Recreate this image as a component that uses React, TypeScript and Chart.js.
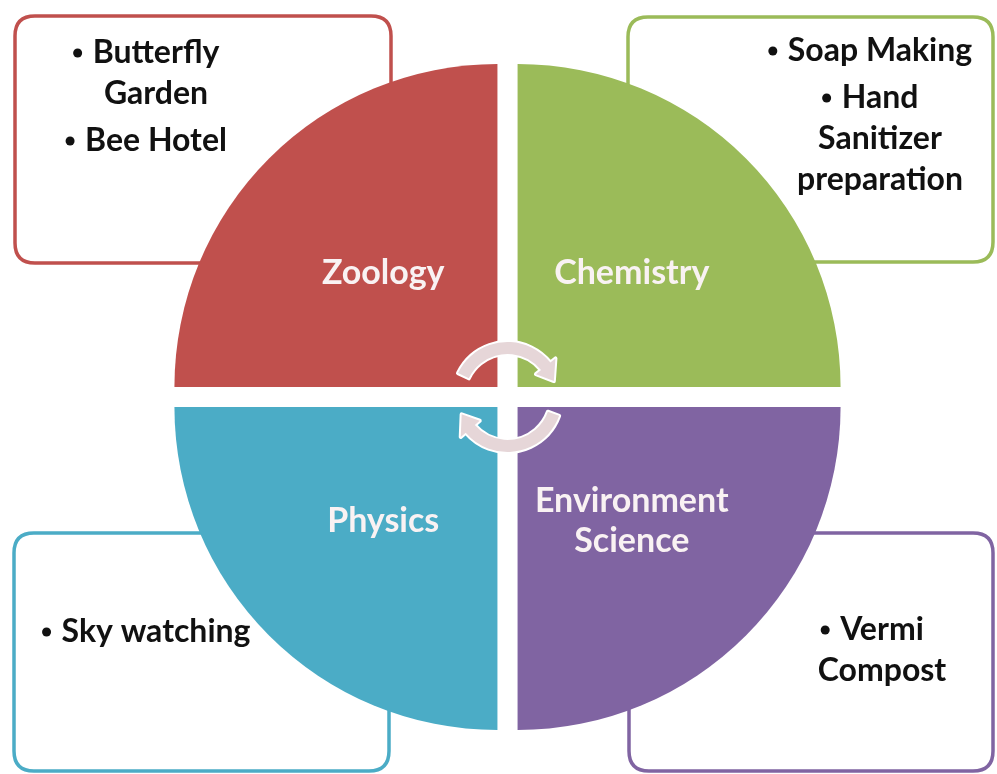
import React, { useEffect, useRef } from "react";
import { Chart, registerables } from "chart.js";

Chart.register(...registerables);

// Quadrants, clockwise from 12 o'clock
const categories = ["Chemistry", "Environment Science", "Physics", "Zoology"];
const shares = [25, 25, 25, 25];
const sliceColors = ["#9bbb59", "#8064a2", "#4bacc6", "#c0504d"];
const sliceLabelLines = [["Chemistry"], ["Environment", "Science"], ["Physics"], ["Zoology"]];

// Activities per quadrant: paragraphs (bulleted), each with wrapped lines
const chemistryActivities = [["Soap Making"], ["Hand", "Sanitizer", "preparation"]];
const environmentActivities = [["Vermi", "Compost"]];
const physicsActivities = [["Sky watching"]];
const zoologyActivities = [["Butterfly", "Garden"], ["Bee Hotel"]];
const activities = [chemistryActivities, environmentActivities, physicsActivities, zoologyActivities];

const W = 997;
const H = 774;
const FONT = "Lato, 'Open Sans', 'DejaVu Sans', sans-serif";

// box geometry per quadrant: [x, y, w, h], text center x, first line center y
const boxLayout = [
  { rect: [628, 17, 365, 245], cx: 880, y0: 51 },
  { rect: [629, 533, 364, 238], cx: 882, y0: 630 },
  { rect: [14, 533, 375, 238], cx: 156, y0: 632 },
  { rect: [15, 16, 376, 247], cx: 156, y0: 53 },
];

function roundRect(ctx: CanvasRenderingContext2D, x: number, y: number, w: number, h: number, r: number) {
  ctx.beginPath();
  ctx.moveTo(x + r, y);
  ctx.lineTo(x + w - r, y);
  ctx.quadraticCurveTo(x + w, y, x + w, y + r);
  ctx.lineTo(x + w, y + h - r);
  ctx.quadraticCurveTo(x + w, y + h, x + w - r, y + h);
  ctx.lineTo(x + r, y + h);
  ctx.quadraticCurveTo(x, y + h, x, y + h - r);
  ctx.lineTo(x, y + r);
  ctx.quadraticCurveTo(x, y, x + r, y);
  ctx.closePath();
}

function curvedArrow(
  ctx: CanvasRenderingContext2D,
  cx: number,
  cy: number,
  r: number,
  w: number,
  a0: number,
  a1: number,
  headLen: number,
  headW: number
) {
  const aH = a1 - headLen / r;
  const ro = r + w / 2;
  const ri = r - w / 2;
  const pt = (a: number, rr: number) => [cx + Math.cos(a) * rr, cy + Math.sin(a) * rr];
  ctx.beginPath();
  ctx.arc(cx, cy, ro, a0, aH, false);
  let p = pt(aH, r + headW / 2);
  ctx.lineTo(p[0], p[1]);
  p = pt(a1, r);
  ctx.lineTo(p[0], p[1]);
  p = pt(aH, r - headW / 2);
  ctx.lineTo(p[0], p[1]);
  p = pt(aH, ri);
  ctx.lineTo(p[0], p[1]);
  ctx.arc(cx, cy, ri, aH, a0, true);
  ctx.closePath();
  ctx.lineJoin = "round";
  ctx.lineWidth = 4;
  ctx.strokeStyle = "#ffffff";
  ctx.stroke();
  ctx.fillStyle = "#e6d6d8";
  ctx.fill();
}

const boxesPlugin = {
  id: "boxes",
  beforeDatasetsDraw(chart: any) {
    const ctx: CanvasRenderingContext2D = chart.ctx;
    ctx.save();
    boxLayout.forEach((b, i) => {
      const [x, y, w, h] = b.rect;
      roundRect(ctx, x, y, w, h, 20);
      ctx.fillStyle = "#ffffff";
      ctx.fill();
      ctx.lineWidth = 3.5;
      ctx.strokeStyle = sliceColors[i];
      ctx.stroke();
    });
    ctx.restore();
  },
  afterDatasetsDraw(chart: any) {
    const ctx: CanvasRenderingContext2D = chart.ctx;
    const meta = chart.getDatasetMeta(0);
    const offset = chart.data.datasets[0].offset as number;
    ctx.save();
    // slice labels
    ctx.font = `bold 34px ${FONT}`;
    ctx.textAlign = "center";
    ctx.textBaseline = "middle";
    ctx.fillStyle = "#f9f2f3";
    meta.data.forEach((arc: any, i: number) => {
      const half = (arc.startAngle + arc.endAngle) / 2;
      const d = arc.outerRadius / 2 + offset / 4;
      const lx = arc.x + Math.cos(half) * d;
      const ly = arc.y + Math.sin(half) * d;
      const lines = sliceLabelLines[i];
      const lh = 40;
      lines.forEach((t, k) => {
        ctx.fillText(t, lx, ly + (k - (lines.length - 1) / 2) * lh);
      });
    });
    // center circular arrows
    const a0 = meta.data[0];
    const cx = a0.x;
    const cy = a0.y;
    curvedArrow(ctx, cx, cy, 49, 12, Math.PI + 0.45, 2 * Math.PI - 0.33, 17, 25);
    curvedArrow(ctx, cx, cy, 49, 12, 0.35, Math.PI - 0.36, 17, 25);

    // box texts
    ctx.font = `bold 32px ${FONT}`;
    ctx.fillStyle = "#111111";
    ctx.textAlign = "left";
    boxLayout.forEach((b, i) => {
      let y = b.y0;
      activities[i].forEach((para, pi) => {
        if (pi > 0) y += 6;
        para.forEach((line, li) => {
          const tw = ctx.measureText(line).width;
          const tx = b.cx - tw / 2;
          ctx.fillText(line, tx, y);
          if (li === 0) {
            ctx.beginPath();
            ctx.arc(tx - 15, y, 4.5, 0, Math.PI * 2);
            ctx.fill();
          }
          y += 41;
        });
      });
    });
    ctx.restore();
  },
};

export default function App() {
  const ref = useRef<HTMLCanvasElement | null>(null);
  useEffect(() => {
    if (!ref.current) return;
    const chart = new Chart(ref.current, {
      type: "pie",
      data: {
        labels: categories,
        datasets: [
          {
            data: shares,
            backgroundColor: sliceColors,
            borderWidth: 0,
            offset: 57,
            hoverOffset: 0,
          } as any,
        ],
      },
      options: {
        responsive: false,
        animation: false,
        radius: 323,
        layout: { padding: { left: 18, right: 0, top: 20, bottom: 0 } },
        plugins: {
          legend: { display: false },
          tooltip: { enabled: false },
          title: { display: false },
        },
        events: [],
      } as any,
      plugins: [boxesPlugin],
    });
    return () => chart.destroy();
  }, []);
  return (
    <div style={{ position: "fixed", left: 0, top: 0, width: W, height: H, background: "#ffffff" }}>
      <canvas ref={ref} width={W} height={H} style={{ width: W, height: H, display: "block" }} />
    </div>
  );
}
